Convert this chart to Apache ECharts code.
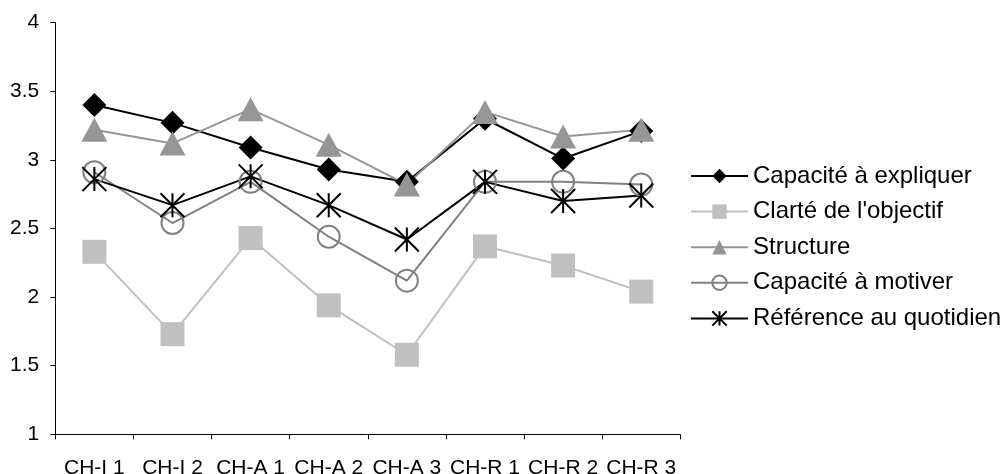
<!DOCTYPE html>
<html>
<head>
<meta charset="utf-8">
<script src="https://cdn.jsdelivr.net/npm/echarts@6/dist/echarts.min.js"></script>
<style>
html,body{margin:0;padding:0;background:#fff;}
#chart{width:1002px;height:474px;}
</style>
</head>
<body>
<div id="chart"></div>
<script>
var categories = ['CH-I 1','CH-I 2','CH-A 1','CH-A 2','CH-A 3','CH-R 1','CH-R 2','CH-R 3'];
var seriesNames = ['Capacité à expliquer','Clarté de l\'objectif','Structure','Capacité à motiver','Référence au quotidien'];
var expliquer = [3.40, 3.27, 3.09, 2.93, 2.84, 3.30, 3.01, 3.21];
var clarte = [2.33, 1.73, 2.43, 1.94, 1.58, 2.37, 2.23, 2.04];
var structure = [3.22, 3.12, 3.37, 3.11, 2.82, 3.35, 3.17, 3.22];
var motiver = [2.91, 2.54, 2.84, 2.44, 2.12, 2.84, 2.84, 2.82];
var quotidien = [2.86, 2.67, 2.88, 2.67, 2.42, 2.84, 2.70, 2.74];
var yTicks = [1, 1.5, 2, 2.5, 3, 3.5, 4];

var FONT = '"Liberation Sans", Arial, sans-serif';
var chart = echarts.init(document.getElementById('chart'), null, {renderer: 'canvas'});
var asterisk = 'path://M0,0 L20,20 M20,0 L0,20 M10,0 L10,20';

chart.setOption({
  animation: false,
  backgroundColor: '#ffffff',
  grid: {left: 55.3, right: 321.7, top: 22.7, bottom: 39.7, containLabel: false, outerBoundsMode: 'none'},
  legend: {
    orient: 'vertical',
    left: 690,
    top: 164,
    padding: 0,
    itemWidth: 57,
    itemHeight: 18,
    itemGap: 11.6,
    textStyle: {fontFamily: FONT, fontSize: 24, color: '#000'},
    data: seriesNames
  },
  xAxis: {
    type: 'category',
    data: categories,
    boundaryGap: true,
    axisLine: {lineStyle: {color: '#000', width: 1}},
    axisTick: {show: true, length: 5, inside: false, alignWithLabel: false, lineStyle: {color: '#000'}},
    axisLabel: {fontFamily: FONT, fontSize: 21, color: '#000', margin: 23, interval: 0},
    splitLine: {show: false}
  },
  yAxis: {
    type: 'value',
    min: yTicks[0],
    max: yTicks[yTicks.length - 1],
    interval: 0.5,
    axisLine: {show: true, lineStyle: {color: '#000', width: 1}},
    axisTick: {show: true, length: 5, lineStyle: {color: '#000'}},
    axisLabel: {fontFamily: FONT, fontSize: 21, color: '#000', margin: 16},
    splitLine: {show: false}
  },
  series: [
    {
      name: seriesNames[0], type: 'line', data: expliquer,
      symbol: 'diamond', symbolSize: 24,
      lineStyle: {color: '#000', width: 2},
      itemStyle: {color: '#000'}
    },
    {
      name: seriesNames[1], type: 'line', data: clarte,
      symbol: 'rect', symbolSize: 24,
      lineStyle: {color: '#c0c0c0', width: 2},
      itemStyle: {color: '#c0c0c0'}
    },
    {
      name: seriesNames[2], type: 'line', data: structure,
      symbol: 'triangle', symbolSize: [26, 24],
      lineStyle: {color: '#969696', width: 2},
      itemStyle: {color: '#969696'}
    },
    {
      name: seriesNames[3], type: 'line', data: motiver,
      symbol: 'circle', symbolSize: 22,
      lineStyle: {color: '#808080', width: 2},
      itemStyle: {color: 'rgba(255,255,255,0)', borderColor: '#808080', borderWidth: 2}
    },
    {
      name: seriesNames[4], type: 'line', data: quotidien,
      symbol: asterisk, symbolSize: 24,
      lineStyle: {color: '#000', width: 2},
      itemStyle: {color: '#000', borderColor: '#000', borderWidth: 2}
    }
  ]
});
</script>
</body>
</html>
